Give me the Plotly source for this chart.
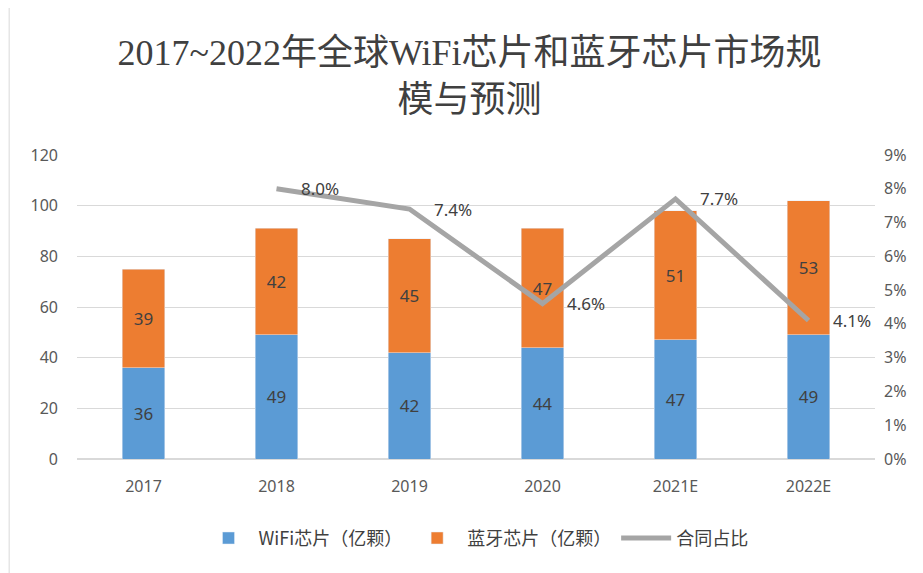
import plotly.graph_objects as go

years = ["2017", "2018", "2019", "2020", "2021E", "2022E"]
wifi = [36, 49, 42, 44, 47, 49]
bt = [39, 42, 45, 47, 51, 53]
share_years = ["2018", "2019", "2020", "2021E", "2022E"]
share = [0.080, 0.074, 0.046, 0.077, 0.041]
share_labels = ["8.0%", "7.4%", "4.6%", "7.7%", "4.1%"]

lab_font = dict(family="Noto Sans, sans-serif", size=17, color="#404040")

fig = go.Figure()
fig.add_trace(go.Bar(x=years, y=wifi, name="WiFi芯片（亿颗）", marker_color="#5B9BD5",
                     text=[str(v) for v in wifi], textposition="inside", insidetextanchor="middle",
                     textfont=lab_font))
fig.add_trace(go.Bar(x=years, y=bt, name="蓝牙芯片（亿颗）", marker_color="#ED7D31",
                     text=[str(v) for v in bt], textposition="inside", insidetextanchor="middle",
                     textfont=lab_font))
fig.add_trace(go.Scatter(x=share_years, y=share, name="合同占比", yaxis="y2", mode="lines",
                         line=dict(color="#A5A5A5", width=5)))
for xv, yv, t in zip(share_years, share, share_labels):
    fig.add_annotation(x=years.index(xv), y=yv, xref="x", yref="y2", text=t, showarrow=False,
                       xanchor="left", yanchor="middle", xshift=22, font=lab_font)

tick_font = dict(family="Noto Sans, sans-serif", size=16, color="#595959")
fig.update_layout(
    width=923, height=573,
    paper_bgcolor="white", plot_bgcolor="white",
    barmode="stack", bargap=0.68,
    margin=dict(l=69, r=56, t=147, b=122),
    title=dict(text="2017~2022年全球WiFi芯片和蓝牙芯片市场规<br>模与预测",
               x=0.5, xanchor="center", y=0.9, yanchor="top",
               font=dict(family="Liberation Serif, Noto Sans CJK SC, serif", size=36, color="#404040")),
    xaxis=dict(showgrid=False, tickfont=tick_font, showline=False, ticks="", type="category",
               categoryorder="array", categoryarray=years, ticklabelstandoff=16),
    yaxis=dict(range=[0, 120], dtick=20, showgrid=True, gridcolor="#D9D9D9", gridwidth=1,
               zeroline=True, zerolinecolor="#D9D9D9", tickfont=tick_font, ticklabelstandoff=18),
    yaxis2=dict(range=[0, 0.09], dtick=0.01, tickformat=".0%", overlaying="y", side="right",
                showgrid=False, zeroline=False, tickfont=tick_font, ticklabelstandoff=8),
    legend=dict(orientation="h", x=0.5, xanchor="center", y=-0.2, yanchor="top",
                font=dict(family="Noto Sans CJK SC, sans-serif", size=18, color="#404040"),
                itemwidth=50, traceorder="normal"),
    showlegend=True,
    uniformtext=dict(minsize=10, mode="show"),
)
fig.add_shape(type="line", xref="paper", yref="paper", x0=-0.085, x1=-0.085, y0=-0.45, y1=1.6,
              line=dict(color="#D9D9D9", width=1))
fig.write_html("out.html")
